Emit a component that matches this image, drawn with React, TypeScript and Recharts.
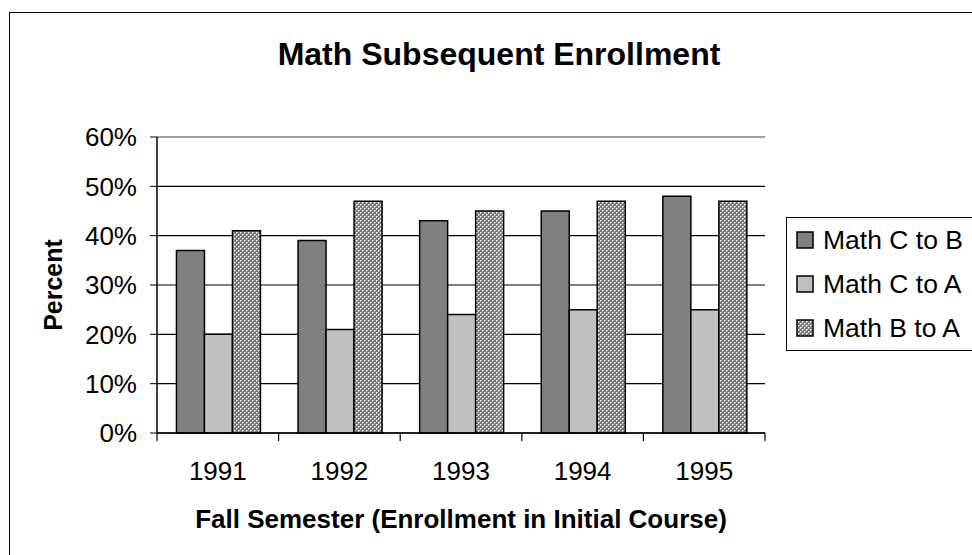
import React from "react";
import {
  Bar,
  BarChart,
  CartesianGrid,
  ReferenceLine,
  XAxis,
  YAxis
} from "recharts";

const years = ["1991", "1992", "1993", "1994", "1995"];
const mathCtoB = [37, 39, 43, 45, 48];
const mathCtoA = [20, 21, 24, 25, 25];
const mathBtoA = [41, 47, 45, 47, 47];
const percentTicks = [0, 10, 20, 30, 40, 50, 60];

const series = [
  { key: "ctob", name: "Math C to B", fill: "#808080" },
  { key: "ctoa", name: "Math C to A", fill: "#c0c0c0" },
  { key: "btoa", name: "Math B to A", fill: "url(#checker)" }
];

const FONT = '"Liberation Sans", Arial, sans-serif';
const LABEL_GAP = 29;

const chartData = years.map((year, i) => ({
  year,
  ctob: mathCtoB[i],
  ctoa: mathCtoA[i],
  btoa: mathBtoA[i]
}));

// year label at the band centre, tick marks at the band edges (Excel style)
function YearTick(props: any): JSX.Element {
  const { x, y, payload, index } = props;
  const half = payload?.offset ?? 0;
  const axisY = y - LABEL_GAP;
  const edges = [x - half];
  if (index === years.length - 1) edges.push(x + half);

  return (
    <g>
      {edges.map((ex) => (
        <line key={ex} x1={ex} x2={ex} y1={axisY} y2={axisY + 8} stroke="#000" strokeWidth={1.2} />
      ))}
      <text
        x={x}
        y={y}
        dy="0.71em"
        textAnchor="middle"
        fill="#000"
        fontSize={26}
        fontFamily={FONT}
      >
        {payload.value}
      </text>
    </g>
  );
}

function LegendBox(): JSX.Element {
  return (
    <div
      style={{
        position: "absolute",
        left: 786,
        top: 217,
        width: 220,
        border: "1px solid #000",
        background: "#fff",
        fontFamily: FONT,
        fontSize: 26.5
      }}
    >
      {series.map((s) => (
        <div
          key={s.key}
          style={{ height: 44, display: "flex", alignItems: "center", paddingLeft: 9 }}
        >
          <svg width={18} height={18} style={{ marginRight: 9 }}>
            <rect x={1} y={1} width={16} height={16} fill={s.fill} stroke="#000" strokeWidth={1.5} />
          </svg>
          <span style={{ color: "#000", whiteSpace: "nowrap" }}>{s.name}</span>
        </div>
      ))}
    </div>
  );
}

export default function App(): JSX.Element {
  return (
    <div
      style={{
        position: "absolute",
        left: 0,
        top: 0,
        width: 972,
        height: 555,
        overflow: "hidden",
        background: "#fff"
      }}
    >
      <svg width={0} height={0} style={{ position: "absolute" }}>
        <defs>
          <pattern id="checker" width={4} height={4} patternUnits="userSpaceOnUse">
            <rect width={4} height={4} fill="#7a7a7a" />
            <rect x={0} y={0} width={1} height={1} fill="#ffffff" />
            <rect x={2} y={2} width={1} height={1} fill="#ffffff" />
            <rect x={1} y={0} width={1} height={1} fill="#c8c8c8" />
            <rect x={0} y={1} width={1} height={1} fill="#c8c8c8" />
            <rect x={3} y={2} width={1} height={1} fill="#c8c8c8" />
            <rect x={2} y={3} width={1} height={1} fill="#c8c8c8" />
          </pattern>
        </defs>
      </svg>

      <div
        style={{
          position: "absolute",
          left: 9,
          top: 12,
          width: 1000,
          height: 600,
          borderLeft: "1px solid #000",
          borderTop: "1px solid #000"
        }}
      />

      <div style={{ position: "absolute", left: 0, top: 0 }}>
        <BarChart
          width={972}
          height={555}
          data={chartData}
          margin={{ top: 137, right: 207, bottom: 92, left: 0 }}
          barCategoryGap="16%"
          barGap={0}
        >
          <CartesianGrid horizontal vertical={false} stroke="#000" strokeWidth={1.2} />

          <XAxis
            dataKey="year"
            height={30}
            interval={0}
            tickLine={false}
            tickSize={0}
            tickMargin={LABEL_GAP}
            axisLine={{ stroke: "#000", strokeWidth: 1.5 }}
            tick={<YearTick />}
          />

          <YAxis
            width={157}
            domain={[0, 60]}
            ticks={percentTicks}
            tickFormatter={(v: number) => `${v}%`}
            tickSize={7}
            tickMargin={13}
            tickLine={{ stroke: "#000" }}
            axisLine={{ stroke: "#000", strokeWidth: 1.5 }}
            tick={{ fill: "#000", fontSize: 26, fontFamily: FONT }}
          />

          <YAxis
            yAxisId="frame"
            orientation="right"
            width={0}
            domain={[0, 60]}
            tick={false}
            tickLine={false}
            axisLine={{ stroke: "#a0a0a0", strokeWidth: 2 }}
          />

          <ReferenceLine y={60} stroke="#a0a0a0" strokeWidth={2} />

          {series.map((s) => (
            <Bar
              key={s.key}
              dataKey={s.key}
              name={s.name}
              fill={s.fill}
              stroke="#000"
              strokeWidth={1.5}
              isAnimationActive={false}
            />
          ))}
        </BarChart>
      </div>

      <LegendBox />

      <svg
        width={972}
        height={555}
        style={{ position: "absolute", left: 0, top: 0, pointerEvents: "none" }}
      >
        <text x={499} y={65} textAnchor="middle" fontFamily={FONT} fontSize={32} fontWeight="bold" fill="#000">
          Math Subsequent Enrollment
        </text>
        <text x={461} y={528} textAnchor="middle" fontFamily={FONT} fontSize={26} fontWeight="bold" fill="#000">
          Fall Semester (Enrollment in Initial Course)
        </text>
        <text
          x={62}
          y={285}
          textAnchor="middle"
          fontFamily={FONT}
          fontSize={25}
          fontWeight="bold"
          fill="#000"
          transform="rotate(-90 62 285)"
        >
          Percent
        </text>
      </svg>
    </div>
  );
}
